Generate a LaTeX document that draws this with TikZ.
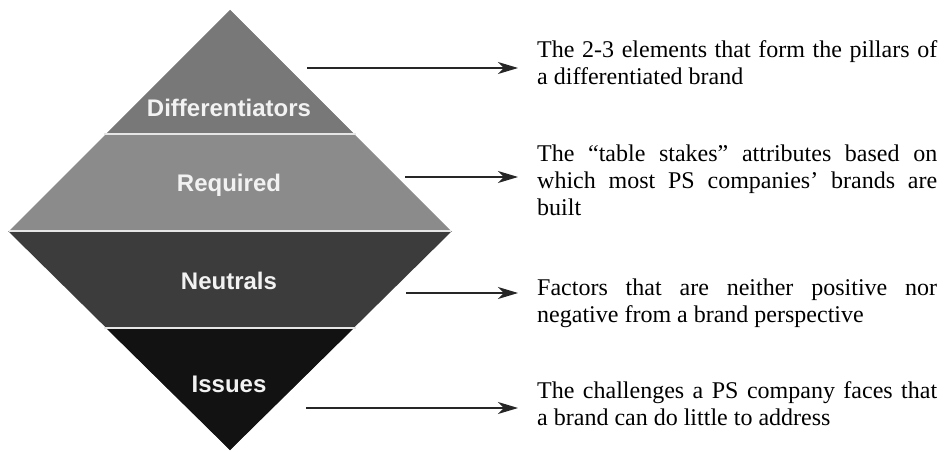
\documentclass[tikz,border=0pt]{standalone}
\usepackage{fontspec}
\setmainfont{Liberation Serif}
\newfontfamily\labelfont{Liberation Sans}
\usetikzlibrary{arrows.meta}
\definecolor{cDiff}{HTML}{787878}
\definecolor{cReq}{HTML}{8B8B8B}
\definecolor{cNeu}{HTML}{3C3C3C}
\definecolor{cIss}{HTML}{121212}
\definecolor{cSep}{HTML}{E6E6E6}
\definecolor{cLab}{HTML}{F2F2F2}
\tikzset{
  lvl/.style={font=\labelfont\bfseries\fontsize{24}{28}\selectfont, text=cLab, inner sep=0pt, anchor=base},
  desc/.style={font=\fontsize{24}{27}\selectfont, inner sep=0pt, anchor=base west, text=black},
  pointer/.style={draw=black!85, line width=1.2pt, -{Stealth[length=20pt, width=12pt, inset=6pt]}},
  sepline/.style={draw=cSep, line width=2pt}
}
\newcommand{\descbox}[1]{\parbox[t]{400pt}{\hyphenpenalty=10000\exhyphenpenalty=10000 #1}}
\begin{document}
\begin{tikzpicture}[x=1pt,y=-1pt]
\useasboundingbox (0,0) rectangle (948,452);
\fill[white] (0,0) rectangle (948,452);
% upper triangle
\fill[cReq] (230,10) -- (450,230) -- (10,230) -- cycle;
\fill[cDiff] (230,10) -- (354,134) -- (106,134) -- cycle;
% lower triangle
\fill[cNeu] (8,231) -- (452,231) -- (230,450) -- cycle;
\fill[cIss] (106,328) -- (354,328) -- (230,450) -- cycle;
% separators
\draw[sepline] (104,134) -- (356,134);
\draw[sepline] (9,230.5) -- (451,230.5);
\draw[sepline] (104,328) -- (356,328);
% labels
\node[lvl] (ldiff) at (229,117) {Differentiators};
\node[lvl] (lreq) at (229,191) {Required};
\node[lvl] (lneu) at (229,289) {Neutrals};
\node[lvl] (liss) at (229,392) {Issues};
% descriptions
\node[desc] (d1) at (537,58) {\descbox{The 2-3 elements that form the pillars of\linebreak a differentiated brand}};
\node[desc] (d2) at (537,161) {\descbox{The “table stakes” attributes based on\linebreak which most PS companies’ brands are\linebreak built}};
\node[desc] (d3) at (537,295) {\descbox{Factors that are neither positive nor\linebreak negative from a brand perspective}};
\node[desc] (d4) at (537,398) {\descbox{The challenges a PS company faces that\linebreak a brand can do little to address}};
% connectors
\coordinate (s1) at (307,68);
\coordinate (e1) at (518,68);
\coordinate (s2) at (405,177);
\coordinate (e2) at (518,177);
\coordinate (s3) at (406,293);
\coordinate (e3) at (518,293);
\coordinate (s4) at (306,408);
\coordinate (e4) at (518,408);
\draw[pointer] (s1) -- (e1);
\draw[pointer] (s2) -- (e2);
\draw[pointer] (s3) -- (e3);
\draw[pointer] (s4) -- (e4);
\end{tikzpicture}
\end{document}
